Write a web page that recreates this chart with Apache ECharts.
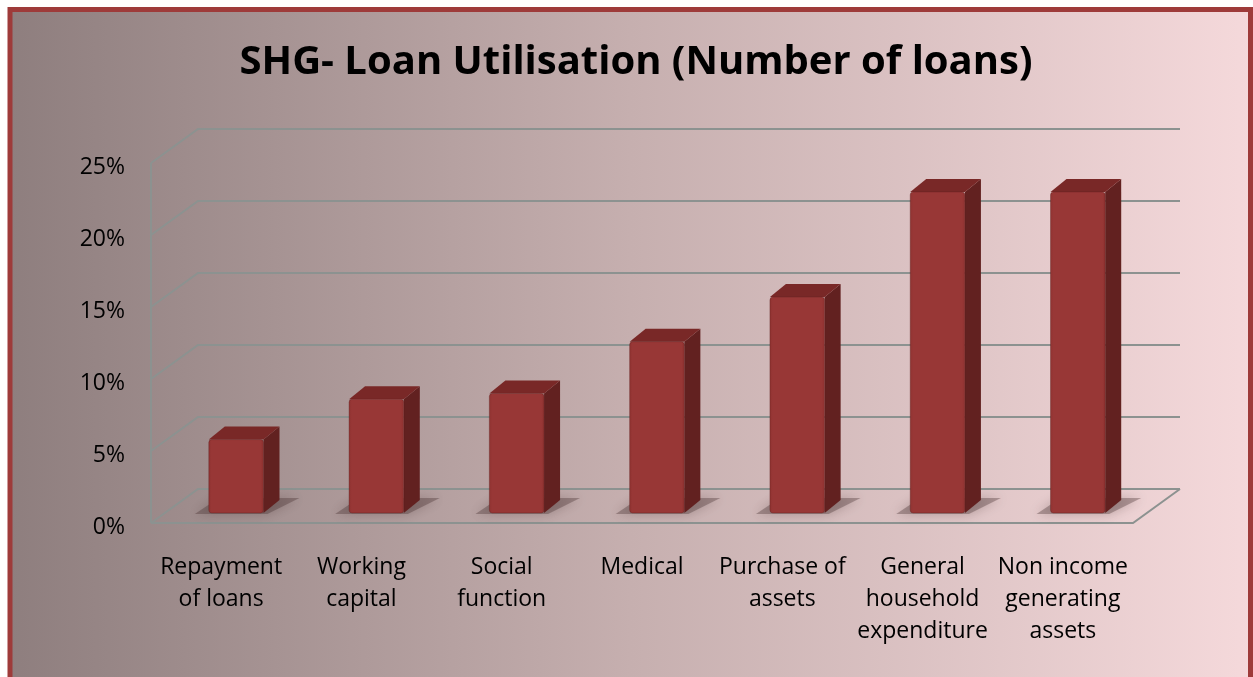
<!DOCTYPE html>
<html>
<head>
<meta charset="utf-8">
<script src="https://cdn.jsdelivr.net/npm/echarts@6/dist/echarts.min.js"></script>
<style>
  html, body { margin: 0; padding: 0; background: #ffffff; }
  #chart { width: 1253px; height: 677px; }
</style>
</head>
<body>
<div id="chart"></div>
<script>
// Loan utilisation categories and share of loans (%)
const categories = [
  'Repayment\nof loans',
  'Working\ncapital',
  'Social\nfunction',
  'Medical',
  'Purchase of\nassets',
  'General\nhousehold\nexpenditure',
  'Non income\ngenerating\nassets'
];
const loanShare = [5.1, 7.9, 8.3, 11.9, 15.0, 22.3, 22.3];
const yTicks = [0, 5, 10, 15, 20, 25];

// 3D projection offsets (pixels)
const WALL_DX = 47, WALL_DY = -34;   // floor / side wall depth
const BAR_OX = 15, BAR_OY = -10;     // bar front face placed into the floor
const BAR_DX = 16, BAR_DY = -13;     // bar depth
const GRID_COLOR = '#8c9290';
const FONT = 'Open Sans';

const chart = echarts.init(document.getElementById('chart'));

function renderWalls(params, api) {
  const cs = params.coordSys;
  const x0 = cs.x, x1 = cs.x + cs.width;
  const children = [];
  const lineStyle = { stroke: GRID_COLOR, lineWidth: 2, fill: null };
  yTicks.forEach(function (v) {
    const y = api.coord([0, v])[1];
    children.push({
      type: 'polyline',
      shape: { points: [[x0, y], [x0 + WALL_DX, y + WALL_DY], [x1 + WALL_DX, y + WALL_DY]] },
      style: lineStyle
    });
  });
  const yb = api.coord([0, yTicks[0]])[1];
  const yt = api.coord([0, yTicks[yTicks.length - 1]])[1];
  // side wall front edge
  children.push({ type: 'line', shape: { x1: x0, y1: yb, x2: x0, y2: yt }, style: lineStyle });
  // floor front and right edges
  children.push({
    type: 'polyline',
    shape: { points: [[x0, yb], [x1, yb], [x1 + WALL_DX, yb + WALL_DY]] },
    style: lineStyle
  });
  return { type: 'group', children: children };
}

function barGeom(api) {
  const i = api.value(0), v = api.value(1);
  const base = api.coord([i, 0]);
  const top = api.coord([i, v]);
  const band = api.size([1, 0])[0];
  const w = band * 0.39;
  const xl = base[0] + BAR_OX - w / 2, xr = xl + w;
  const yb = base[1] + BAR_OY, yt = top[1] + BAR_OY;
  return { xl: xl, xr: xr, yb: yb, yt: yt, w: w };
}

function renderShadows(params, api) {
  const g = barGeom(api);
  return {
    type: 'polygon',
    shape: {
      points: [
        [g.xl - 14, g.yb + 1],
        [g.xr + 4, g.yb + 1],
        [g.xr + BAR_DX + 20, g.yb + BAR_DY - 2],
        [g.xl + BAR_DX - 6, g.yb + BAR_DY - 2]
      ]
    },
    style: {
      fill: 'rgba(70,45,45,0.35)',
      shadowBlur: 12,
      shadowColor: 'rgba(60,40,40,0.8)'
    }
  };
}

function renderBars(params, api) {
  const g = barGeom(api);
  const front = {
    type: 'rect',
    shape: { x: g.xl, y: g.yt, width: g.w, height: g.yb - g.yt, r: 3 },
    style: {
      fill: new echarts.graphic.LinearGradient(0, 0, 1, 0, [
        { offset: 0, color: '#8e3230' },
        { offset: 0.06, color: '#983736' },
        { offset: 0.94, color: '#983736' },
        { offset: 1, color: '#8a302e' }
      ]),
      stroke: 'rgba(90,30,30,0.35)', lineWidth: 1
    }
  };
  const side = {
    type: 'polygon',
    shape: {
      points: [[g.xr, g.yt], [g.xr + BAR_DX, g.yt + BAR_DY], [g.xr + BAR_DX, g.yb + BAR_DY], [g.xr, g.yb]]
    },
    style: { fill: '#622120' }
  };
  const topFace = {
    type: 'polygon',
    shape: {
      points: [[g.xl, g.yt], [g.xl + BAR_DX, g.yt + BAR_DY], [g.xr + BAR_DX, g.yt + BAR_DY], [g.xr, g.yt]]
    },
    style: { fill: '#792827' }
  };
  return { type: 'group', children: [side, topFace, front] };
}

const option = {
  animation: false,
  graphic: [{
    type: 'rect',
    z: -10,
    silent: true,
    shape: { x: 10, y: 9.5, width: 1240.5, height: 700 },
    style: {
      fill: new echarts.graphic.LinearGradient(0, 0, 1, 0, [
        { offset: 0, color: '#8e7e7e' },
        { offset: 0.5, color: '#c6afaf' },
        { offset: 1, color: '#f5d9db' }
      ]),
      stroke: '#9e3b3a',
      lineWidth: 5
    }
  }],
  title: {
    text: 'SHG- Loan Utilisation (Number of loans)',
    left: 631,
    top: 38,
    textAlign: 'center',
    textStyle: { fontFamily: FONT, fontWeight: 'bold', fontSize: 40, color: '#000' }
  },
  grid: { left: 151, top: 163, width: 982, height: 360, containLabel: false },
  xAxis: {
    type: 'category',
    data: categories,
    axisLine: { show: false },
    axisTick: { show: false },
    axisLabel: {
      interval: 0,
      margin: 28,
      fontFamily: FONT,
      fontSize: 23,
      lineHeight: 32,
      color: '#000'
    }
  },
  yAxis: {
    type: 'value',
    min: 0,
    max: 25,
    interval: 5,
    axisLine: { show: false },
    axisTick: { show: false },
    splitLine: { show: false },
    axisLabel: {
      formatter: '{pct|{value}%}',
      margin: 26,
      rich: {
        pct: {
          padding: [8, 0, 0, 0],
          fontFamily: FONT,
          fontSize: 23,
          color: '#000'
        }
      }
    }
  },
  series: [
    {
      type: 'custom',
      name: 'walls',
      silent: true,
      z: 1,
      data: [[0, 0]],
      renderItem: renderWalls
    },
    {
      type: 'custom',
      name: 'shadows',
      silent: true,
      z: 2,
      data: loanShare.map(function (v, i) { return [i, v]; }),
      renderItem: renderShadows
    },
    {
      type: 'custom',
      name: 'Loan share',
      z: 3,
      data: loanShare.map(function (v, i) { return [i, v]; }),
      renderItem: renderBars
    }
  ]
};

chart.setOption(option);
</script>
</body>
</html>
